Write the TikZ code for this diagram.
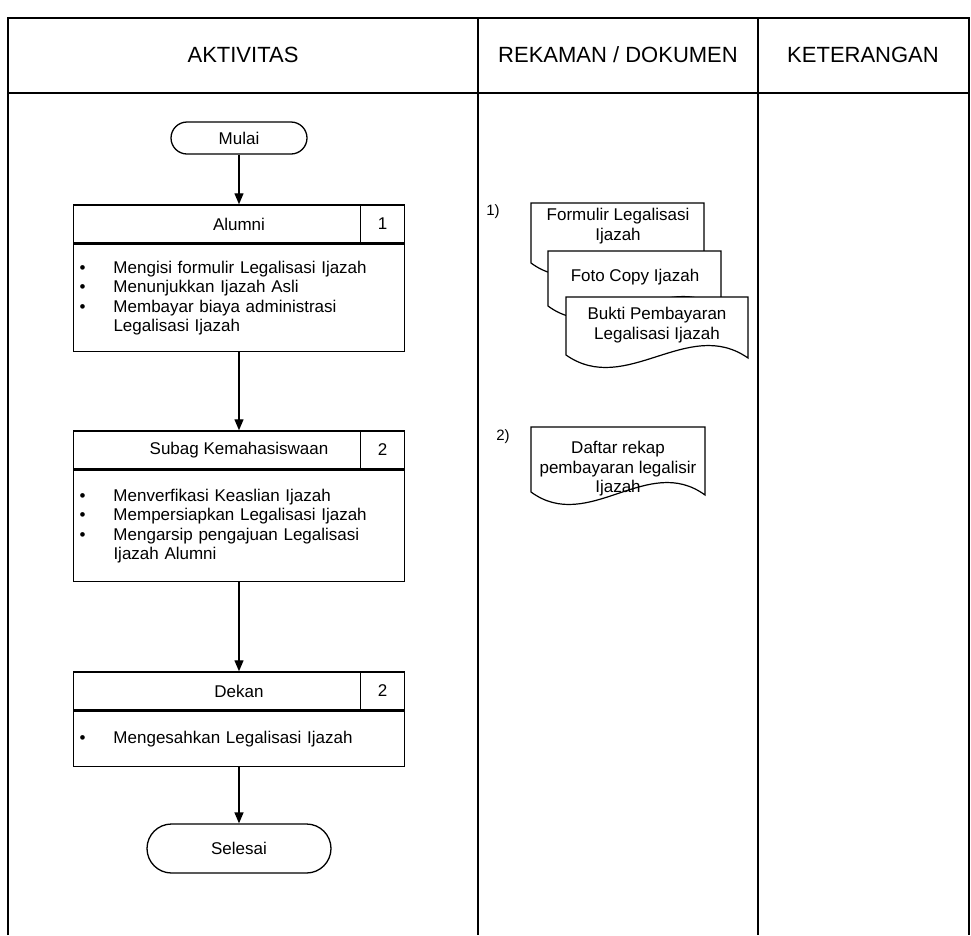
\documentclass[tikz,border=0pt]{standalone}
\usepackage{fontspec}
\setmainfont{Liberation Sans}
\usetikzlibrary{positioning,arrows.meta,backgrounds}

\newcommand{\butir}{\makebox[34pt][l]{\textbullet}}
\newcommand{\lanjut}{\hspace*{34pt}}

\begin{document}
\begin{tikzpicture}[x=1pt, y=-1pt,
  font=\fontsize{17}{19.5}\selectfont,
  >={Triangle[length=11pt,width=9pt]},
  tabel/.style={line width=1.6pt},
  garis/.style={->, line width=1.4pt},
  judul/.style={font=\fontsize{22}{26}\selectfont},
  terminal/.style={rectangle, draw, line width=1.3pt, inner sep=0pt},
  kepala/.style={rectangle, draw, line width=1.5pt, minimum width=331pt, minimum height=38pt, inner sep=0pt},
  nomor/.style={rectangle, draw, line width=1.5pt, minimum width=44pt, minimum height=38pt, inner sep=0pt, anchor=east},
  isi/.style={rectangle, draw, line width=1.5pt, text width=319pt, inner xsep=6pt, inner ysep=0pt, align=left},
  dokbentuk/.style={draw, fill=white, line width=1.2pt},
  dokteks/.style={align=center, inner sep=0pt},
]
\useasboundingbox (0,0) rectangle (971,935);

% tabel
\draw[tabel] (8,935) -- (8,18) -- (969,18) -- (969,935);
\draw[tabel] (8,93) -- (969,93);
\draw[tabel] (478,18) -- (478,935);
\draw[tabel] (758,18) -- (758,935);

\node(aktivitas) [judul] at (243,55) {AKTIVITAS};
\node(rekaman) [judul] at (618,55) {REKAMAN / DOKUMEN};
\node(keterangan) [judul] at (863,55) {KETERANGAN};

% aktivitas
\node(mulai) [terminal, minimum width=136pt, minimum height=32pt, rounded corners=16pt] at (239,138) {Mulai};

\node(alumni) [kepala] at (239,224) {Alumni};
\node(no1) [nomor] at (alumni.east) {1};
\node(alumniisi) [isi, minimum height=107pt, below=0pt of alumni]
  {\butir Mengisi formulir Legalisasi Ijazah\\
   \butir Menunjukkan Ijazah Asli\\
   \butir Membayar biaya administrasi\\
   \lanjut Legalisasi Ijazah};

\node(subag) [kepala] at (239,450) {Subag Kemahasiswaan};
\node(no2) [nomor] at (subag.east) {2};
\node(subagisi) [isi, minimum height=111pt, below=0pt of subag]
  {\butir Menverfikasi Keaslian Ijazah\\
   \butir Mempersiapkan Legalisasi Ijazah\\
   \butir Mengarsip pengajuan Legalisasi\\
   \lanjut Ijazah Alumni};

\node(dekan) [kepala] at (239,691) {Dekan};
\node(no3) [nomor] at (dekan.east) {2};
\node(dekanisi) [isi, minimum height=55pt, below=0pt of dekan]
  {\butir Mengesahkan Legalisasi Ijazah};

\node(selesai) [terminal, minimum width=184pt, minimum height=49pt, rounded corners=24.5pt] at (239,848.5) {Selesai};

\draw[garis] (mulai) -- (alumni);
\draw[garis] (alumniisi) -- (subag);
\draw[garis] (subagisi) -- (dekan);
\draw[garis] (dekanisi) -- (selesai);

% rekaman / dokumen
\node(tanda1) at (493,212) {\fontsize{15}{17}\selectfont 1)};
\node(tanda2) at (503,437) {\fontsize{15}{17}\selectfont 2)};

\node(formulir) [dokteks] at (618,226) {Formulir Legalisasi\\Ijazah};
\node(fotokopi) [dokteks] at (635,277) {Foto Copy Ijazah};
\node(bukti) [dokteks] at (657,325) {Bukti Pembayaran\\Legalisasi Ijazah};
\node(rekap) [dokteks] at (618,469) {Daftar rekap\\pembayaran legalisir\\Ijazah};

\begin{pgfonlayer}{background}
\foreach \x/\y/\w/\h in {531/203/173/60, 548/251/173/55, 566/297/182/58, 531/427/174/65}
  \draw[dokbentuk] (\x,\y) -- ++(\w,0) -- ++(0,\h+3)
    .. controls +(-0.33*\w,-42) and +(0.33*\w,42) .. (\x,\y+\h) -- cycle;
\end{pgfonlayer}

\end{tikzpicture}
\end{document}
